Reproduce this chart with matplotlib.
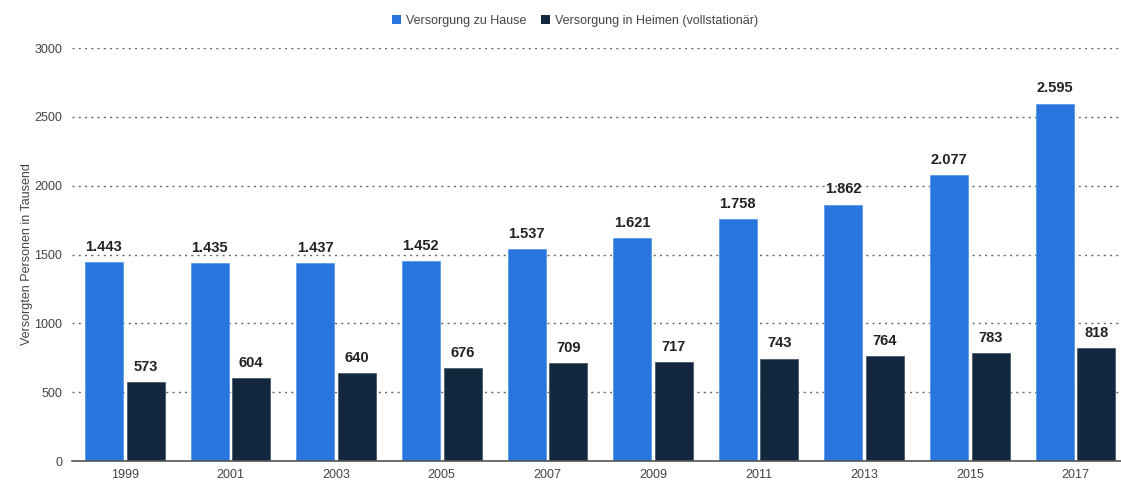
import numpy as np
import matplotlib.pyplot as plt
from matplotlib.patches import Patch

plt.rcParams["font.family"] = ["Liberation Sans", "DejaVu Sans"]

# Daten (in Tausend)
jahre = ["1999", "2001", "2003", "2005", "2007", "2009", "2011", "2013", "2015", "2017"]
zu_hause = [1443, 1435, 1437, 1452, 1537, 1621, 1758, 1862, 2077, 2595]
in_heimen = [573, 604, 640, 676, 709, 717, 743, 764, 783, 818]

BLAU = "#2876dd"
DUNKEL = "#13283e"

fig = plt.figure(figsize=(11.21, 4.84), dpi=100)
ax = fig.add_axes([0.0642, 0.0475, 0.9358, 0.8533])

x = np.arange(len(jahre))
w = 0.36
off = 0.197

b1 = ax.bar(x - off, zu_hause, w, color=BLAU, edgecolor="#5a9ae8", linewidth=0.6, zorder=3)
b2 = ax.bar(x + off, in_heimen, w, color=DUNKEL, edgecolor="#4a5a6a", linewidth=0.6, zorder=3)

def fmt(v):
    # Tausendertrennzeichen als Punkt
    return f"{v:,}".replace(",", ".")

for rect, v in zip(b1, zu_hause):
    ax.annotate(fmt(v), (rect.get_x() + rect.get_width() / 2, v),
                xytext=(0, 6), textcoords="offset points", ha="center", va="bottom",
                fontsize=10.5, fontweight="bold", color="#222222")
for rect, v in zip(b2, in_heimen):
    ax.annotate(fmt(v), (rect.get_x() + rect.get_width() / 2, v),
                xytext=(0, 6), textcoords="offset points", ha="center", va="bottom",
                fontsize=10.5, fontweight="bold", color="#222222")

ax.set_xlim(-0.5, 9.43)
ax.set_ylim(0, 3000)
ax.set_yticks(range(0, 3001, 500))
ax.set_xticks(x)
ax.set_xticklabels(jahre)
ax.tick_params(axis="both", length=0, labelsize=9, labelcolor="#444444")
ax.tick_params(axis="x", pad=6)
ax.tick_params(axis="y", pad=7)

ax.grid(axis="y", linestyle=(0, (1.5, 3)), color="#666666", linewidth=1.0, zorder=0)
for s in ["top", "right", "left"]:
    ax.spines[s].set_visible(False)
ax.spines["bottom"].set_color("#555555")
ax.spines["bottom"].set_linewidth(1.2)
ax.spines["bottom"].set_zorder(4)

ax.set_ylabel("Versorgten Personen in Tausend", fontsize=9, color="#444444", labelpad=1)

handles = [Patch(facecolor=BLAU, label="Versorgung zu Hause"),
           Patch(facecolor=DUNKEL, label="Versorgung in Heimen (vollstationär)")]
fig.legend(handles=handles, loc="center", bbox_to_anchor=(0.513, 0.957), ncol=2,
           frameon=False, fontsize=9, handlelength=0.7, handleheight=0.7,
           handletextpad=0.4, columnspacing=1.2, labelcolor="#444444")

fig.savefig("out.png", dpi=100)
